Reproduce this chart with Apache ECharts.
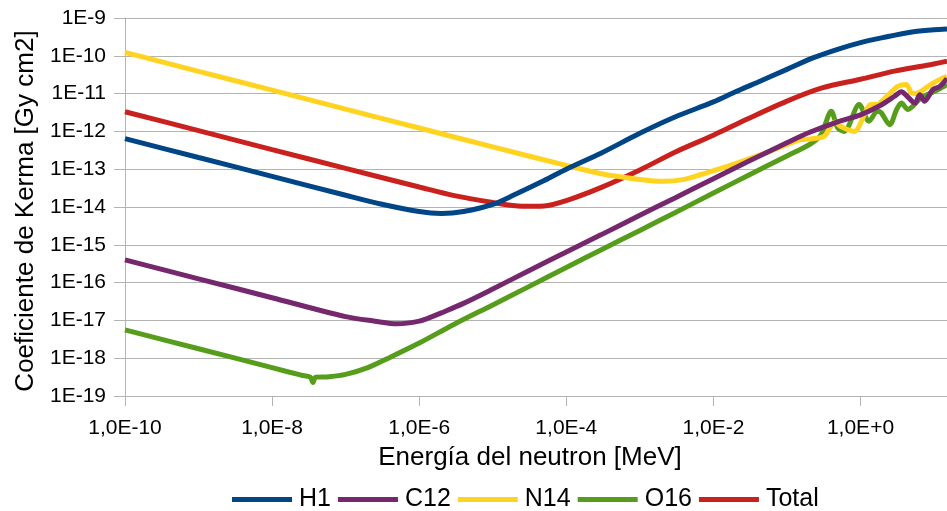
<!DOCTYPE html>
<html>
<head>
<meta charset="utf-8">
<script src="https://cdn.jsdelivr.net/npm/echarts@6/dist/echarts.min.js"></script>
<style>html,body{margin:0;padding:0;background:#fff}#c{width:947px;height:511px}</style>
</head>
<body>
<div id="c"></div>
<script>
// ---- data (neutron energy in MeV, kerma coefficient in Gy cm2) ----
const seriesNames = ['H1', 'C12', 'N14', 'O16', 'Total'];
const seriesColors = ['#004586', '#75286e', '#ffd320', '#579d1c', '#c9211e'];

const h1E = [1e-10,1e-9,1e-8,1e-7,3e-7,1e-6,2e-6,4e-6,1e-5,2e-5,5e-5,1e-4,3e-4,1e-3,3e-3,1e-2,2e-2,4e-2,1e-1,2.3e-1,5e-1,1,2,5,10,15];
const h1K = [6.46e-13,2.04e-13,6.46e-14,2.04e-14,1.20e-14,7.59e-15,6.76e-15,7.59e-15,1.17e-14,2.14e-14,5.01e-14,1.0e-13,2.69e-13,8.91e-13,2.40e-12,6.03e-12,1.12e-11,2.0e-11,4.37e-11,8.91e-11,1.51e-10,2.24e-10,3.02e-10,4.27e-10,4.90e-10,5.13e-10];

const c12E = [1e-10,1e-9,1e-8,1e-7,2.5e-7,5e-7,1e-6,1.5e-6,2e-6,4e-6,1e-5,3e-5,1e-4,3e-4,1e-3,3e-3,1e-2,3e-2,1e-1,2e-1,5e-1,1,1.8,2.9,3.6,4.2,5.5,6.4,7.4,9.7,12,15];
const c12K = [3.98e-16,1.26e-16,3.98e-17,1.26e-17,9.55e-18,8.13e-18,9.55e-18,1.26e-17,1.58e-17,2.82e-17,6.76e-17,2.0e-16,6.46e-16,1.86e-15,6.03e-15,1.74e-14,5.62e-14,1.62e-13,5.01e-13,9.33e-13,1.82e-12,2.75e-12,4.68e-12,8.51e-12,1.12e-11,8.91e-12,5.62e-12,9.33e-12,6.31e-12,1.29e-11,1.55e-11,2.51e-11];

const n14E = [1e-10,1e-9,1e-8,1e-7,1e-6,1e-5,1e-4,3e-4,1e-3,2.1e-3,4e-3,6.8e-3,1.7e-2,5.5e-2,1.55e-1,2.1e-1,3.2e-1,4.5e-1,5.5e-1,8.2e-1,1.4,1.7,1.9,2.5,3.2,4.2,4.9,5.6,8.3,10.8,15];
const n14K = [1.23e-10,3.89e-11,1.23e-11,3.89e-12,1.23e-12,3.89e-13,1.26e-13,7.59e-14,5.37e-14,4.79e-14,5.37e-14,7.24e-14,1.26e-13,2.82e-13,6.03e-13,6.31e-13,7.41e-13,1.78e-12,1.32e-12,1.0e-12,5.13e-12,5.13e-12,6.03e-12,1.0e-11,1.55e-11,1.74e-11,1.05e-11,1.0e-11,1.55e-11,2.14e-11,2.88e-11];

const o16E = [1e-10,1e-9,1e-8,2.5e-8,3.3e-8,3.6e-8,3.9e-8,6e-8,1e-7,2e-7,4e-7,1e-6,3e-6,1e-5,3e-5,1e-4,3e-4,1e-3,3e-3,1e-2,3e-2,1e-1,2.1e-1,2.9e-1,3.7e-1,4.0e-1,4.9e-1,6e-1,9.6e-1,1.3,1.7,1.9,2.5,3.1,3.6,4.4,6.7,10.2,15];
const o16K = [5.62e-18,1.78e-18,5.62e-19,3.55e-19,3.16e-19,2.29e-19,3.16e-19,3.24e-19,3.72e-19,5.62e-19,1.05e-18,2.51e-18,7.94e-18,2.57e-17,7.59e-17,2.51e-16,7.41e-16,2.40e-15,7.08e-15,2.34e-14,6.92e-14,2.24e-13,4.68e-13,8.13e-13,2.75e-12,3.39e-12,1.23e-12,1.0e-12,5.13e-12,1.86e-12,3.39e-12,3.16e-12,1.51e-12,3.80e-12,5.62e-12,3.80e-12,7.76e-12,1.15e-11,1.74e-11];

const totE = [1e-10,1e-9,1e-8,1e-7,1e-6,3e-6,1e-5,2.5e-5,5e-5,1e-4,3e-4,1e-3,3e-3,1e-2,3e-2,1e-1,3e-1,1,3,8,15];
const totK = [3.31e-12,1.05e-12,3.31e-13,1.05e-13,3.39e-14,2.0e-14,1.32e-14,1.05e-14,1.07e-14,1.48e-14,3.31e-14,9.55e-14,2.82e-13,7.94e-13,2.19e-12,6.31e-12,1.41e-11,2.40e-11,3.98e-11,5.62e-11,7.24e-11];

const xTitle = 'Energía del neutron [MeV]';
const yTitle = 'Coeficiente de Kerma [Gy cm2]';

// ---- chart ----
const FONT = 'Liberation Sans';
const GRAY = '#b3b3b3';
const pairs = (E, K) => E.map((e, i) => [e, K[i]]);
const seriesData = [pairs(h1E, h1K), pairs(c12E, c12K), pairs(n14E, n14K), pairs(o16E, o16K), pairs(totE, totK)];

function expOf(v) { return Math.round(Math.log10(v)); }
function xFmt(v) { const e = expOf(v); return '1,0E' + (e >= 0 ? '+' : '') + e; }
function yFmt(v) { return '1E' + expOf(v); }

// draw order: Total at the bottom, H1 on top
const order = [4, 3, 2, 1, 0];
const series = order.map(i => ({
  name: seriesNames[i],
  type: 'line',
  data: seriesData[i],
  showSymbol: false,
  smooth: 0.3,
  lineStyle: { width: 5, color: seriesColors[i] },
  itemStyle: { color: seriesColors[i] },
  emphasis: { disabled: true }
}));

const chart = echarts.init(document.getElementById('c'));
chart.setOption({
  animation: false,
  backgroundColor: '#fff',
  grid: { left: 125, right: 0, top: 18, bottom: 115 },
  xAxis: {
    type: 'log', logBase: 10, min: 1e-10, max: 15, interval: 2,
    name: xTitle, nameLocation: 'middle', nameGap: 49,
    nameTextStyle: { fontSize: 26, color: '#000', fontFamily: FONT, padding: [0, 12, 0, 0] },
    axisLine: { lineStyle: { color: GRAY, width: 1 } },
    axisTick: { length: 10, lineStyle: { color: GRAY } },
    axisLabel: { formatter: xFmt, fontSize: 21, color: '#000', fontFamily: FONT, margin: 22, showMaxLabel: false },
    splitLine: { show: false },
    minorTick: { show: false }
  },
  yAxis: {
    type: 'log', logBase: 10, min: 1e-19, max: 1e-9, interval: 1,
    name: yTitle, nameLocation: 'middle', nameGap: 86,
    nameTextStyle: { fontSize: 26, color: '#000', fontFamily: FONT, padding: [0, 8, 0, 0] },
    axisLine: { show: true, lineStyle: { color: GRAY, width: 1 } },
    axisTick: { show: true, length: 11, lineStyle: { color: GRAY } },
    axisLabel: { formatter: yFmt, fontSize: 21, color: '#000', fontFamily: FONT, margin: 19 },
    splitLine: { show: true, lineStyle: { color: GRAY, width: 1 } }
  },
  legend: {
    data: seriesNames,
    top: 482, left: 227,
    icon: 'rect', itemWidth: 60, itemHeight: 5, itemGap: 7,
    textStyle: { fontSize: 25, color: '#000', fontFamily: FONT, padding: [0, 0, 0, 2] }
  },
  series: series
});
</script>
</body>
</html>
